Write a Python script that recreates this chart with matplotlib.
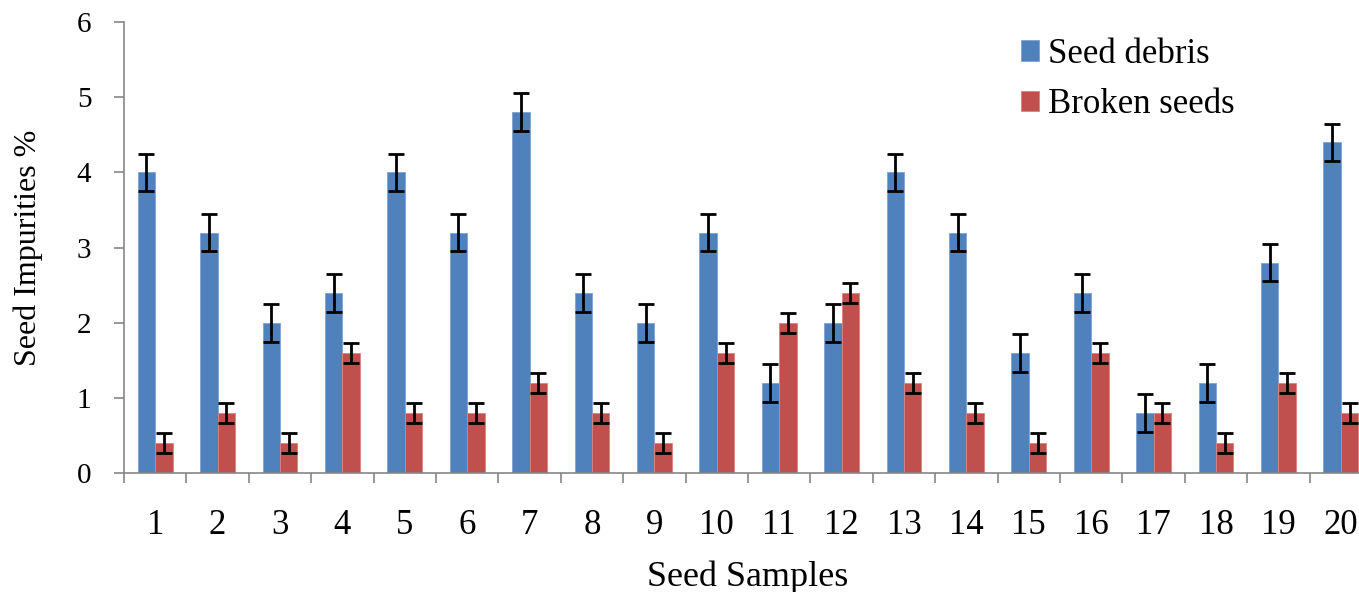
import matplotlib.pyplot as plt
import numpy as np

plt.rcParams['font.family'] = 'Liberation Serif'

# values
samples = [str(i) for i in range(1, 21)]
seed_debris = [4.0, 3.2, 2.0, 2.4, 4.0, 3.2, 4.8, 2.4, 2.0, 3.2,
               1.2, 2.0, 4.0, 3.2, 1.6, 2.4, 0.8, 1.2, 2.8, 4.4]
broken_seeds = [0.4, 0.8, 0.4, 1.6, 0.8, 0.8, 1.2, 0.8, 0.4, 1.6,
                2.0, 2.4, 1.2, 0.8, 0.4, 1.6, 0.8, 0.4, 1.2, 0.8]
debris_err = [0.25] * 20
broken_err = [0.13] * 20

fig = plt.figure(figsize=(13.59, 5.92), dpi=100)
# axes runs a little past the right edge, like the cropped original
ax = fig.add_axes([124 / 1359, 118.7 / 592, 1248 / 1359, 451.3 / 592])

x = np.arange(len(samples))
w = 0.28
err_kw = dict(ecolor='black', elinewidth=2.0, capsize=5.5, capthick=2.0)
ax.bar(x - w / 2, seed_debris, w, color='#4F81BD', edgecolor='#7fa3d0',
       linewidth=0.6, yerr=debris_err, error_kw=err_kw, label='Seed debris')
ax.bar(x + w / 2, broken_seeds, w, color='#C0504D', edgecolor='#d98582',
       linewidth=0.6, yerr=broken_err, error_kw=err_kw, label='Broken seeds')

ax.set_xlim(-0.5, len(samples) - 0.5)
ax.set_ylim(0, 6)
ax.set_yticks(range(7))
ax.set_xticks(x)
ax.set_xticklabels(samples)
ax.set_xticks(np.arange(-0.5, len(samples)), minor=True)

for s in ['top', 'right']:
    ax.spines[s].set_visible(False)
for s in ['left', 'bottom']:
    ax.spines[s].set_color('#868686')
    ax.spines[s].set_linewidth(1.2)

ax.tick_params(axis='x', which='major', length=0, pad=26, labelsize=25)
ax.tick_params(axis='x', which='minor', length=7.5, width=1.2, color='#868686')
ax.tick_params(axis='y', length=7.5, width=1.2, color='#868686', pad=16, labelsize=21)

ax.set_xlabel('Seed Samples', fontsize=26, labelpad=13)
ax.set_ylabel('Seed Impurities %', fontsize=23, labelpad=24)

fig.legend(loc='upper left', bbox_to_anchor=(1021 / 1359, 1 - 38 / 592),
           frameon=False, fontsize=25, handlelength=0.53, handleheight=0.53,
           handletextpad=0.26, labelspacing=0.5, borderpad=0, borderaxespad=0)

fig.savefig('out.png', dpi=100)
